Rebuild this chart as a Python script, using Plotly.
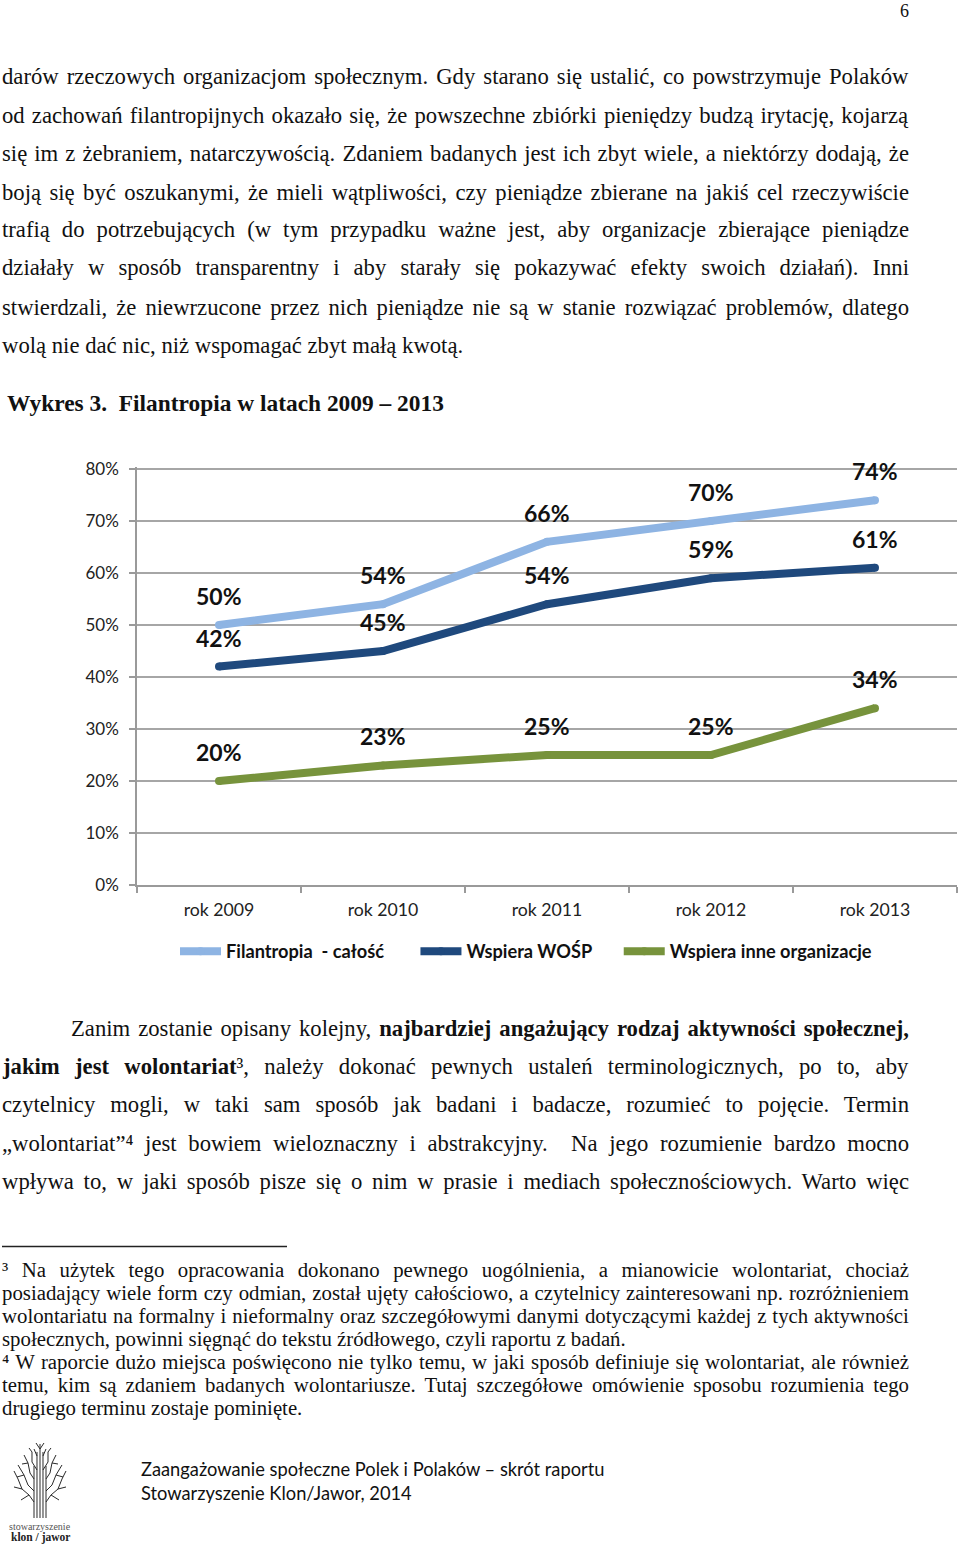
import json
import plotly.graph_objects as go

W, H = 960, 1544

categories = ["rok 2009", "rok 2010", "rok 2011", "rok 2012", "rok 2013"]
filantropia = [50, 54, 66, 70, 74]
wosp = [42, 45, 54, 59, 61]
inne = [20, 23, 25, 25, 34]
NB = "\u00a0"
series_names = ["Filantropia  - całość" + NB * 6, "Wspiera WOŚP" + NB * 5, "Wspiera inne organizacje"]
series_colors = ["#8EB4E3", "#1F497D", "#77933C"]
y_ticks = [0, 10, 20, 30, 40, 50, 60, 70, 80]

BODY = "Liberation Serif"
SANS = "Lato"

para1 = [
    (77, "darów rzeczowych organizacjom społecznym. Gdy starano się ustalić, co powstrzymuje Polaków", True),
    (115, "od zachowań filantropijnych okazało się, że powszechne zbiórki pieniędzy budzą irytację, kojarzą", True),
    (153, "się im z żebraniem, natarczywością. Zdaniem badanych jest ich zbyt wiele, a niektórzy dodają, że", True),
    (192, "boją się być oszukanymi, że mieli wątpliwości, czy pieniądze zbierane na jakiś cel rzeczywiście", True),
    (230, "trafią do potrzebujących (w tym przypadku ważne jest, aby organizacje zbierające pieniądze", True),
    (268, "działały w sposób transparentny i aby starały się pokazywać efekty swoich działań). Inni", True),
    (307, "stwierdzali, że niewrzucone przez nich pieniądze nie są w stanie rozwiązać problemów, dlatego", True),
    (345, "wolą nie dać nic, niż wspomagać zbyt małą kwotą.", False),
]
para2 = [
    (1066, "<b>jakim jest wolontariat</b>³, należy dokonać pewnych ustaleń terminologicznych, po to, aby", True),
    (1104, "czytelnicy mogli, w taki sam sposób jak badani i badacze, rozumieć to pojęcie. Termin", True),
    (1143, "„wolontariat”⁴ jest bowiem wieloznaczny i abstrakcyjny.  Na jego rozumienie bardzo mocno", True),
    (1181, "wpływa to, w jaki sposób pisze się o nim w prasie i mediach społecznościowych. Warto więc", True),
]
notes = [
    (1270, "³ Na użytek tego opracowania dokonano pewnego uogólnienia, a mianowicie wolontariat, chociaż", True),
    (1293, "posiadający wiele form czy odmian, został ujęty całościowo, a czytelnicy zainteresowani np. rozróżnieniem", True),
    (1316, "wolontariatu na formalny i nieformalny oraz szczegółowymi danymi dotyczącymi każdej z tych aktywności", True),
    (1339, "społecznych, powinni sięgnąć do tekstu źródłowego, czyli raportu z badań.", False),
    (1362, "⁴ W raporcie dużo miejsca poświęcono nie tylko temu, w jaki sposób definiuje się wolontariat, ale również", True),
    (1385, "temu, kim są zdaniem badanych wolontariusze. Tutaj szczegółowe omówienie sposobu rozumienia tego", True),
    (1408, "drugiego terminu zostaje pominięte.", False),
]

fig = go.Figure()
for name, vals, col in zip(series_names, [filantropia, wosp, inne], series_colors):
    fig.add_trace(go.Scatter(
        x=categories, y=vals, name=name, mode="lines+markers",
        line=dict(color=col, width=8), marker=dict(color=col, size=8),
        hoverinfo="skip", cliponaxis=False,
    ))

annotations = []


def page_text(x, y, text, size, font=BODY, color="#111111", anchor="left"):
    annotations.append(dict(
        xref="paper", yref="paper", x=x / W, y=1 - y / H, text=text, showarrow=False,
        xanchor=anchor, yanchor="middle", align="left", borderpad=0, borderwidth=0,
        font=dict(family=font, size=size, color=color),
    ))


for vals in [filantropia, wosp, inne]:
    for c, v in zip(categories, vals):
        annotations.append(dict(
            xref="x", yref="y", x=c, y=v, text=f"<b>{v}%</b>", showarrow=False,
            yshift=29, xanchor="center", yanchor="middle", borderpad=0,
            font=dict(family=SANS, size=23, color="#111111"),
        ))

page_text(904, 11, "6", 18, anchor="center")
for y, t, _ in para1:
    page_text(2, y, t, 22.7)
page_text(7, 403, "<b>Wykres 3.  Filantropia w latach 2009 – 2013</b>", 23.4)
page_text(71, 1028, "Zanim zostanie opisany kolejny, <b>najbardziej angażujący rodzaj aktywności społecznej,</b>", 22.7)
for y, t, _ in para2:
    page_text(2, y, t, 22.7)
for y, t, _ in notes:
    page_text(2, y, t, 20.8)
page_text(141, 1469, "Zaangażowanie społeczne Polek i Polaków – skrót raportu", 18.3, font=SANS)
page_text(141, 1493, "Stowarzyszenie Klon/Jawor, 2014", 18.3, font=SANS)
page_text(40, 1526, "stowarzyszenie", 10, anchor="center", color="#555555")
page_text(40, 1537, "<b>klon / jawor</b>", 11.5, anchor="center", color="#222222")

# Logo: stylised tree drawn as decoration, in page pixels (left half, mirrored about x=40)
trunk = [(34, 1466), (37, 1452), (40, 1444), (43, 1452), (46, 1466)]
branches = [
    [(34, 1502), (29, 1495), (22, 1489), (18, 1479), (14, 1471)],
    [(34, 1491), (28, 1485), (24, 1475), (18, 1465)],
    [(34, 1479), (30, 1473), (28, 1463), (24, 1455)],
    [(37, 1470), (32, 1462), (32, 1452), (29, 1448)],
    [(37, 1456), (34, 1449)],
    [(22, 1489), (14, 1487)],
    [(24, 1475), (17, 1477)],
    [(28, 1463), (22, 1464)],
    [(29, 1495), (21, 1500)],
]
shapes = [dict(type="line", xref="paper", yref="paper", x0=2 / W, x1=287 / W,
               y0=1 - 1246.5 / H, y1=1 - 1246.5 / H, line=dict(color="#222222", width=1.5))]


def logo_path(pts):
    d = "M" + " L".join(f"{x / W:.5f},{1 - y / H:.5f}" for x, y in pts)
    shapes.append(dict(type="path", xref="paper", yref="paper", path=d,
                       line=dict(color="#2a2a2a", width=1)))


for x, top in trunk:
    logo_path([(x, 1518), (x, top)])
for b in branches:
    logo_path(b)
    logo_path([(80 - x, y) for x, y in b])
logo_path([(40, 1449), (36, 1443)])
logo_path([(40, 1449), (44, 1443)])

fig.update_layout(
    width=W, height=H, margin=dict(l=0, r=0, t=0, b=0, pad=0, autoexpand=False),
    paper_bgcolor="white", plot_bgcolor="white",
    annotations=annotations, shapes=shapes, hovermode=False,
    showlegend=True,
    legend=dict(
        orientation="h", x=175 / W, y=1 - 951.5 / H, xanchor="left", yanchor="middle",
        font=dict(family=SANS, size=18.2, color="#111111", weight="bold"),
        itemwidth=41, bgcolor="rgba(0,0,0,0)", traceorder="normal",
    ),
    xaxis=dict(
        domain=[137 / W, 957 / W], type="category", range=[-0.5, 4.5],
        categoryorder="array", categoryarray=categories, tickson="boundaries",
        ticks="outside", ticklen=6, tickcolor="#9a9a9a", tickwidth=1.5, ticklabelstandoff=8,
        showgrid=False, showline=True, linecolor="#9a9a9a", linewidth=1.5, zeroline=False,
        tickfont=dict(family=SANS, size=17.7, color="#222222"),
    ),
    yaxis=dict(
        domain=[1 - 885 / H, 1 - 466.92 / H], range=[0, 80.4], tickvals=y_ticks,
        ticktext=[f"{v}%" for v in y_ticks], ticks="outside", ticklen=6, ticklabelstandoff=7,
        tickcolor="#9a9a9a", tickwidth=1.5, showgrid=True, gridcolor="#a6a6a6", gridwidth=1.5,
        showline=True, linecolor="#9a9a9a", linewidth=1.5, zeroline=False,
        tickfont=dict(family=SANS, size=17, color="#222222"),
    ),
)

plain = lambda s: s.replace("<b>", "").replace("</b>", "")
justified = [plain(t) for _, t, j in para1 + para2 + notes if j]
justified.append("Zanim zostanie opisany kolejny, najbardziej angażujący rodzaj aktywności społecznej,")

post = """
(function(){
  document.body.style.margin = '0';
  var lines = %s;
  function fit(){
    document.querySelectorAll('.annotation-text').forEach(function(el){
      var t = el.textContent.replace(/[\\u200b]/g, '');
      if (lines.indexOf(t) < 0) return;
      el.style.wordSpacing = '0px';
      var n = t.split(' ').length - 1;
      var target = 909 - el.getBoundingClientRect().left;
      var len = el.getBoundingClientRect().width;
      if (n > 0) el.style.wordSpacing = ((target - len) / n) + 'px';
    });
  }
  fit();
  setTimeout(fit, 200);
})();
""" % json.dumps(justified, ensure_ascii=False)

fig.write_html("out.html", post_script=post, config={"displayModeBar": False})
